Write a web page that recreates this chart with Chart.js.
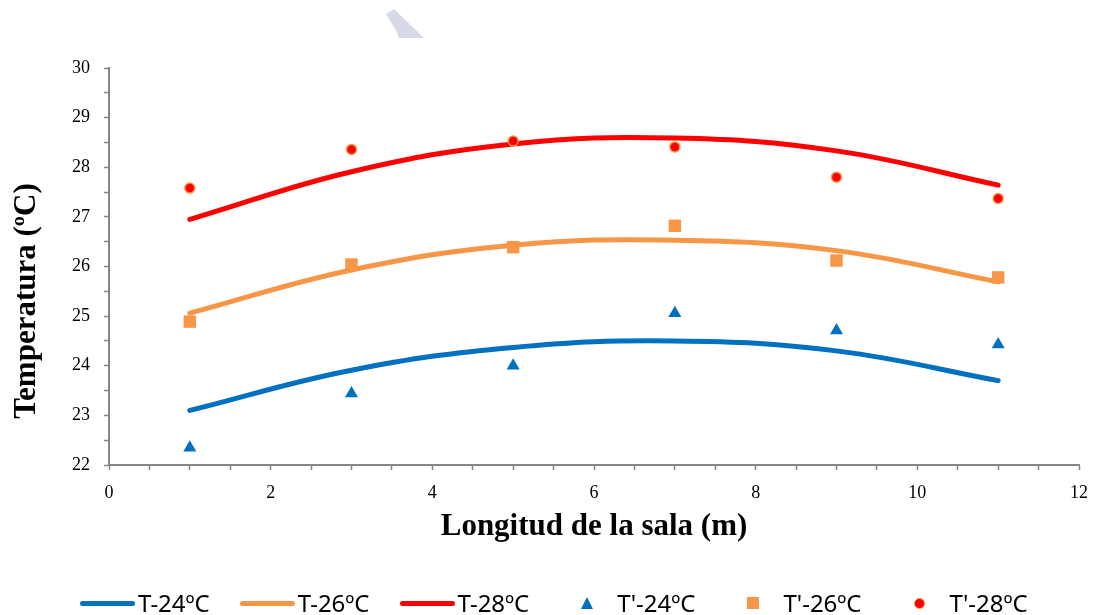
<!DOCTYPE html>
<html>
<head>
<meta charset="utf-8">
<script src="https://cdn.jsdelivr.net/npm/chart.js@4.4.0/dist/chart.umd.min.js"></script>
<style>
  html, body { margin: 0; padding: 0; background: #fff; }
  .chart { position: relative; width: 1100px; height: 615px; overflow: hidden; }
  .chart canvas { position: absolute; left: 0; top: 0; }
  .legend { position: absolute; left: 80px; top: 588px; height: 30px; display: flex; align-items: center;
            font-family: "Noto Sans", sans-serif; font-size: 24px; line-height: 30px; color: #000; }
  .legend__item { display: flex; align-items: center; margin-right: 30px; white-space: nowrap; }
  .legend__box { width: 55px; height: 30px; display: flex; align-items: center; justify-content: center; margin-right: 3px; }
  .legend__line { width: 55px; height: 5px; border-radius: 3px; }
  .legend__triangle { width: 0; height: 0; border-left: 6.5px solid transparent; border-right: 6.5px solid transparent; border-bottom: 12px solid; }
  .legend__rect { width: 12px; height: 12px; }
  .legend__circle { width: 9px; height: 9px; border-radius: 50%; border: 1.5px solid; }
</style>
</head>
<body>
<div class="chart">
  <canvas id="chart" width="1100" height="615"></canvas>
  <div class="legend" id="legend"></div>
</div>
<script>
// posiciones de medida a lo largo de la sala (m)
var positions = [1, 3, 5, 7, 9, 11];

var labels = ["T-24ºC", "T-26ºC", "T-28ºC", "T'-24ºC", "T'-26ºC", "T'-28ºC"];

// curvas T
var t24 = [23.10, 23.91, 24.37, 24.50, 24.30, 23.70];
var t26 = [25.06, 25.93, 26.43, 26.53, 26.32, 25.69];
var t28 = [26.95, 27.91, 28.47, 28.59, 28.33, 27.64];

// puntos T'
var tp24 = [22.35, 23.44, 24.00, 25.06, 24.71, 24.43];
var tp26 = [24.89, 26.04, 26.39, 26.82, 26.12, 25.78];
var tp28 = [27.58, 28.36, 28.53, 28.41, 27.80, 27.37];

var xTitle = "Longitud de la sala (m)";
var yTitle = "Temperatura (ºC)";

var blue = "#0070C0", orange = "#F79646", red = "#FF0000";
var axisColor = "#868686";

function pairs(values) {
  return values.map(function(v, i) {
    return { x: positions[i], y: v };
  });
}

function curve(label, values, color) {
  return {
    label: label,
    data: pairs(values),
    showLine: true,
    borderColor: color,
    backgroundColor: color,
    borderWidth: 5,
    borderCapStyle: "round",
    pointRadius: 0,
    pointHoverRadius: 0,
    tension: 0.4,
    order: 1
  };
}

function points(label, values, style, fill, border, radius, borderWidth) {
  return {
    label: label,
    data: pairs(values),
    showLine: false,
    pointStyle: style,
    pointRadius: radius,
    pointHoverRadius: radius,
    backgroundColor: fill,
    borderColor: border,
    borderWidth: borderWidth,
    order: 0
  };
}

var extras = {
  id: "extras",
  beforeDraw: function(chart) {
    var ctx = chart.ctx;
    ctx.save();
    ctx.fillStyle = "#d5d9e8";
    ctx.beginPath();
    ctx.moveTo(386, 14);
    ctx.lineTo(394, 9);
    ctx.lineTo(424, 38);
    ctx.lineTo(399, 38);
    ctx.lineTo(397, 32);
    ctx.closePath();
    ctx.fill();
    ctx.restore();
  },
  afterDraw: function(chart) {
    var ctx = chart.ctx;
    ctx.save();
    ctx.translate(35, chart.chartArea.bottom - 164);
    ctx.rotate(-Math.PI / 2);
    ctx.font = "bold 31px 'Liberation Serif'";
    ctx.textAlign = "center";
    ctx.textBaseline = "alphabetic";
    ctx.fillStyle = "#000";
    ctx.fillText(yTitle, 0, 0);
    ctx.restore();
  }
};

var tickFont = { family: "'Liberation Serif'", size: 18 };

var chart = new Chart(document.getElementById("chart").getContext("2d"), {
  type: "scatter",
  data: {
    datasets: [
      curve(labels[0], t24, blue),
      curve(labels[1], t26, orange),
      curve(labels[2], t28, red),
      points(labels[3], tp24, "triangle", blue, blue, 7.5, 0),
      points(labels[4], tp26, "rect", orange, orange, 8.8, 0),
      points(labels[5], tp28, "circle", red, orange, 5, 1.5)
    ]
  },
  options: {
    responsive: false,
    animation: false,
    layout: { padding: { top: 68, right: 20, bottom: 50, left: 0 } },
    plugins: {
      legend: { display: false },
      tooltip: { enabled: false }
    },
    scales: {
      x: {
        type: "linear",
        min: 0,
        max: 12,
        border: { color: axisColor, width: 2 },
        grid: { drawOnChartArea: false, tickLength: 5, color: axisColor, tickWidth: 1.5 },
        ticks: {
          stepSize: 0.5,
          autoSkip: false,
          maxRotation: 0,
          padding: 12,
          color: "#000",
          font: tickFont,
          callback: function(v) { return v % 2 === 0 ? v : ""; }
        },
        title: {
          display: true,
          text: xTitle,
          color: "#000",
          font: { family: "'Liberation Serif'", size: 31, weight: "bold" },
          padding: { top: 0, bottom: 19 }
        },
        afterFit: function(scale) { scale.height = 100; }
      },
      y: {
        type: "linear",
        min: 22,
        max: 30,
        border: { color: axisColor, width: 2 },
        grid: { drawOnChartArea: false, tickLength: 5, color: axisColor, tickWidth: 1.5 },
        ticks: {
          stepSize: 0.5,
          autoSkip: false,
          padding: 14,
          color: "#000",
          font: tickFont,
          callback: function(v) { return Number.isInteger(v) ? v : ""; }
        },
        afterFit: function(scale) { scale.width = 109; }
      }
    }
  },
  plugins: [extras]
});

// leyenda en HTML, a partir de los datasets
var legend = document.getElementById("legend");
chart.data.datasets.forEach(function(ds) {
  var item = document.createElement("div");
  item.className = "legend__item";
  var box = document.createElement("span");
  box.className = "legend__box";
  var mark = document.createElement("span");
  if (ds.showLine) {
    mark.className = "legend__line";
    mark.style.background = ds.borderColor;
  } else {
    mark.className = "legend__" + ds.pointStyle;
    if (ds.pointStyle === "triangle") {
      mark.style.borderBottomColor = ds.backgroundColor;
    } else {
      mark.style.background = ds.backgroundColor;
      mark.style.borderColor = ds.borderColor;
    }
  }
  box.appendChild(mark);
  var text = document.createElement("span");
  text.textContent = ds.label;
  item.appendChild(box);
  item.appendChild(text);
  legend.appendChild(item);
});
</script>
</body>
</html>
